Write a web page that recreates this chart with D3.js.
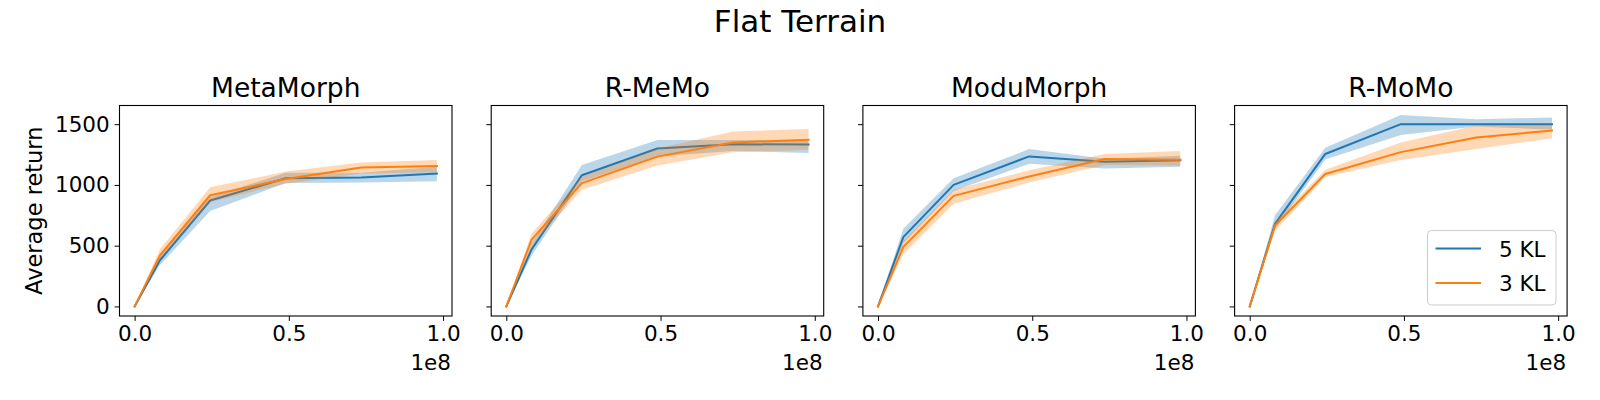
<!DOCTYPE html>
<html>
<head>
<meta charset="utf-8">
<script src="https://cdn.jsdelivr.net/npm/d3@7"></script>
<style>
  html, body { margin: 0; padding: 0; background: #fff; }
  svg text { font-family: "DejaVu Sans", sans-serif; fill: #000; }
</style>
</head>
<body>
<svg id="chart" width="1600" height="400"></svg>
<script>
// ---------------- data ----------------
const suptitle = "Flat Terrain";
const panelTitles = ["MetaMorph", "R-MeMo", "ModuMorph", "R-MoMo"];
const seriesNames = ["5 KL", "3 KL"];
const steps = [0, 0.082e8, 0.245e8, 0.49e8, 0.735e8, 0.98e8];

// 5 KL (blue)
const blueMean = [
  [0, 380, 872, 1055, 1062, 1093],
  [0, 470, 1080, 1300, 1335, 1332],
  [0, 570, 1000, 1235, 1190, 1203],
  [0, 680, 1255, 1500, 1500, 1500]
];
const blueLo = [
  [0, 340, 785, 1015, 1020, 1030],
  [0, 420, 1030, 1235, 1280, 1262],
  [0, 520, 950, 1175, 1135, 1150],
  [0, 640, 1210, 1410, 1480, 1455]
];
const blueHi = [
  [0, 420, 900, 1100, 1100, 1150],
  [0, 520, 1165, 1370, 1370, 1372],
  [0, 640, 1055, 1295, 1215, 1240],
  [0, 750, 1305, 1575, 1540, 1555]
];
// 3 KL (orange)
const orangeMean = [
  [0, 420, 915, 1048, 1143, 1155],
  [0, 550, 1015, 1233, 1350, 1372],
  [0, 490, 910, 1070, 1213, 1208],
  [0, 665, 1090, 1270, 1390, 1448]
];
const orangeLo = [
  [0, 390, 860, 1010, 1095, 1105],
  [0, 500, 960, 1160, 1270, 1290],
  [0, 430, 845, 1020, 1165, 1160],
  [0, 620, 1065, 1205, 1295, 1385]
];
const orangeHi = [
  [0, 470, 980, 1110, 1185, 1205],
  [0, 600, 1070, 1300, 1440, 1460],
  [0, 540, 960, 1120, 1255, 1280],
  [0, 700, 1125, 1350, 1490, 1495]
];

const xTicks = [0, 0.5e8, 1e8];
const xTickLabels = ["0.0", "0.5", "1.0"];
const yTicks = [0, 500, 1000, 1500];
const yTickLabels = ["0", "500", "1000", "1500"];
const xOffsetLabel = "1e8";
const yLabel = "Average return";

// ---------------- layout ----------------
const colors = ["#1f77b4", "#ff7f0e"];
const panelLeft0 = 119.5, panelStep = 371.7, panelW = 332.5;
const panelTop = 105.5, panelBottom = 316;

const svg = d3.select("#chart");

// shared scales (matplotlib style 5% margins)
const xMin = d3.min(steps), xMax = d3.max(steps);
const xPad = (xMax - xMin) * 0.05;
const allVals = [].concat(...blueLo, ...blueHi, ...orangeLo, ...orangeHi);
const yMin = d3.min(allVals), yMax = d3.max(allVals);
const yPad = (yMax - yMin) * 0.05;

const y = d3.scaleLinear().domain([yMin - yPad, yMax + yPad]).range([panelBottom, panelTop]);

svg.append("text")
  .attr("x", 800).attr("y", 31.5)
  .attr("text-anchor", "middle")
  .style("font-size", "31px")
  .text(suptitle);

panelTitles.forEach((title, i) => {
  const left = panelLeft0 + i * panelStep;
  const x = d3.scaleLinear().domain([xMin - xPad, xMax + xPad]).range([left, left + panelW]);
  const g = svg.append("g");

  const series = [
    { mean: blueMean[i], lo: blueLo[i], hi: blueHi[i], color: colors[0] },
    { mean: orangeMean[i], lo: orangeLo[i], hi: orangeHi[i], color: colors[1] }
  ];

  const area = d3.area()
    .x((d, k) => x(steps[k]))
    .y0(d => d[0])
    .y1(d => d[1]);
  const line = d3.line()
    .x((d, k) => x(steps[k]))
    .y(d => y(d));

  series.forEach(s => {
    const band = s.lo.map((v, k) => [y(v), y(s.hi[k])]);
    g.append("path")
      .attr("d", area(band))
      .attr("fill", s.color)
      .attr("fill-opacity", 0.3)
      .attr("stroke", "none");
    g.append("path")
      .attr("d", line(s.mean))
      .attr("fill", "none")
      .attr("stroke", s.color)
      .attr("stroke-width", 2)
      .attr("stroke-linejoin", "round")
      .attr("stroke-linecap", "square");
  });

  // x axis
  const xAxis = d3.axisBottom(x).tickValues(xTicks)
    .tickFormat((d, k) => xTickLabels[k])
    .tickSizeOuter(0).tickSize(4.9).tickPadding(4.5);
  const gx = g.append("g").attr("transform", `translate(0,${panelBottom})`).call(xAxis);
  gx.select(".domain").remove();
  gx.selectAll("line").attr("stroke", "#000").attr("stroke-width", 1);
  gx.selectAll("text").style("font-size", "21.5px").attr("fill", "#000")
    .attr("font-family", "DejaVu Sans");

  // y axis
  const yAxis = d3.axisLeft(y).tickValues(yTicks)
    .tickFormat((d, k) => i === 0 ? yTickLabels[k] : "")
    .tickSizeOuter(0).tickSize(4.9).tickPadding(4.9);
  const gy = g.append("g").attr("transform", `translate(${left},0)`).call(yAxis);
  gy.select(".domain").remove();
  gy.selectAll("line").attr("stroke", "#000").attr("stroke-width", 1);
  gy.selectAll("text").style("font-size", "21.5px").attr("fill", "#000")
    .attr("font-family", "DejaVu Sans");

  // frame
  g.append("rect")
    .attr("x", left).attr("y", panelTop)
    .attr("width", panelW).attr("height", panelBottom - panelTop)
    .attr("fill", "none").attr("stroke", "#000").attr("stroke-width", 1.1);

  // offset label
  g.append("text")
    .attr("x", left + panelW - 1).attr("y", 369.5)
    .attr("text-anchor", "end")
    .style("font-size", "21.5px")
    .text(xOffsetLabel);

  // panel title
  g.append("text")
    .attr("x", left + panelW / 2).attr("y", 96.5)
    .attr("text-anchor", "middle")
    .style("font-size", "26.5px")
    .text(title);

  if (i === 0) {
    svg.append("text")
      .attr("transform", `translate(41.5,${(panelTop + panelBottom) / 2}) rotate(-90)`)
      .attr("text-anchor", "middle")
      .style("font-size", "22.5px")
      .text(yLabel);
  }

  if (i === panelTitles.length - 1) {
    const lg = g.append("g");
    const lx = 1427.5, ly = 230.5, lw = 128.5, lh = 74.5;
    lg.append("rect")
      .attr("x", lx).attr("y", ly).attr("width", lw).attr("height", lh)
      .attr("rx", 4).attr("ry", 4)
      .attr("fill", "#fff").attr("fill-opacity", 0.8)
      .attr("stroke", "#cccccc").attr("stroke-width", 1);
    seriesNames.forEach((name, k) => {
      const cy = 248.5 + k * 34.5;
      lg.append("line")
        .attr("x1", 1435.5).attr("x2", 1481)
        .attr("y1", cy).attr("y2", cy)
        .attr("stroke", colors[k]).attr("stroke-width", 2);
      lg.append("text")
        .attr("x", 1499).attr("y", cy + 8)
        .style("font-size", "21.5px")
        .text(name);
    });
  }
});
</script>
</body>
</html>
